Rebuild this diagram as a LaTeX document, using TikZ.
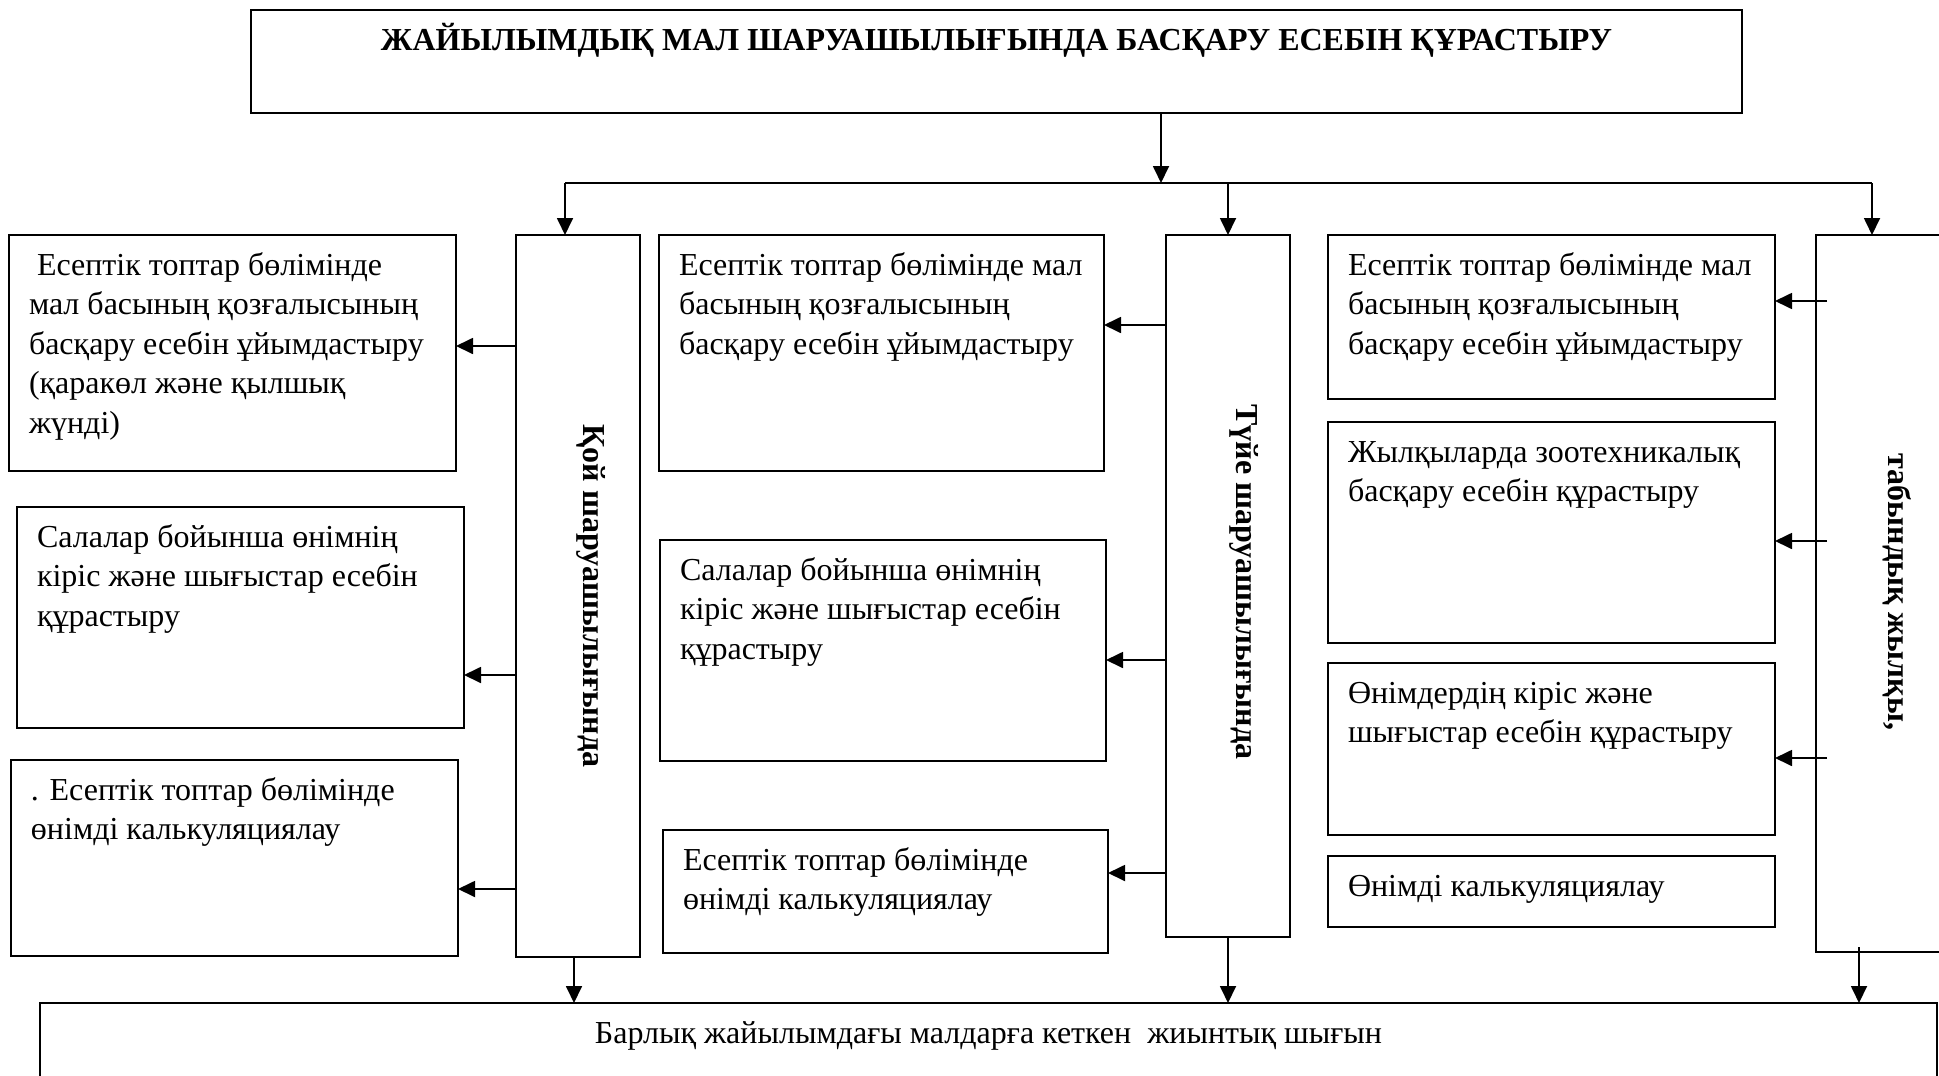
\documentclass[tikz,border=0pt]{standalone}
\usepackage{fontspec}
\setmainfont{Liberation Serif}
\usetikzlibrary{arrows.meta}
% box text: width and height in px of the sheet, text hangs from the top
\newcommand{\boxtext}[3]{\parbox[t][\dimexpr#2pt/2\relax][t]{\dimexpr#1pt/2-20pt\relax}{\raggedright\rule{0pt}{20pt}#3}}
\newcommand{\boxtitle}[3]{\parbox[t][\dimexpr#2pt/2\relax][t]{\dimexpr#1pt/2-20pt\relax}{\centering\rule{0pt}{20pt}#3}}
\tikzset{
  cell/.style={draw, line width=0.6pt, anchor=north west, inner xsep=10pt, inner ysep=0pt,
               outer sep=0pt, font=\fontsize{16}{19.75}\selectfont},
  spine/.style={draw, line width=0.6pt, anchor=north west, inner sep=0pt, outer sep=0pt},
  spinelabel/.style={rotate=-90, inner sep=0pt, font=\fontsize{16}{19.75}\selectfont\bfseries},
  arr/.style={-{Triangle[length=8.5pt,width=8pt]}, line width=0.9pt},
  bus/.style={line width=0.6pt},
}
\begin{document}
\begin{tikzpicture}[x=0.5pt, y=-0.5pt]
  \useasboundingbox (0,0) rectangle (1939,1076);
  \node[cell] (title) at (251,10) {\boxtitle{1491}{103}{\textbf{ЖАЙЫЛЫМДЫҚ МАЛ ШАРУАШЫЛЫҒЫНДА БАСҚАРУ ЕСЕБІН ҚҰРАСТЫРУ}}};

  % sheep
  \node[spine, minimum width=62pt, minimum height=361pt] (koi) at (516,235) {};
  \node[spinelabel] (koiLabel) at (591,596) {Қой шаруашылығында};
  \node[cell] (koiA) at (9,235) {\boxtext{447}{236}{\hspace*{0.25em}Есептік топтар бөлімінде\\мал басының қозғалысының\\басқару есебін ұйымдастыру\\(қаракөл және қылшық\\жүнді)}};
  \node[cell] (koiB) at (17,507) {\boxtext{447}{221}{Салалар бойынша өнімнің\\кіріс және шығыстар есебін\\құрастыру}};
  \node[cell] (koiC) at (11,760) {\boxtext{447}{196}{. Есептік топтар бөлімінде\\өнімді калькуляциялау}};

  % camel
  \node[spine, minimum width=62pt, minimum height=351pt] (tuie) at (1166,235) {};
  \node[spinelabel] (tuieLabel) at (1244,582) {Түйе шаруашылығында};
  \node[cell] (tuieA) at (659,235) {\boxtext{445}{236}{Есептік топтар бөлімінде мал\\басының қозғалысының\\басқару есебін ұйымдастыру}};
  \node[cell] (tuieB) at (660,540) {\boxtext{446}{221}{Салалар бойынша өнімнің\\кіріс және шығыстар есебін\\құрастыру}};
  \node[cell] (tuieC) at (663,830) {\boxtext{445}{123}{Есептік топтар бөлімінде\\өнімді калькуляциялау}};

  % horses
  \node[spine, minimum width=150pt, minimum height=358.5pt] (jylqy) at (1816,235) {};
  \node[spinelabel] (jylqyLabel) at (1897,592) {табындық жылқы,};
  \node[cell] (jylqyA) at (1328,235) {\boxtext{447}{164}{Есептік топтар бөлімінде мал\\басының қозғалысының\\басқару есебін ұйымдастыру}};
  \node[cell] (jylqyB) at (1328,422) {\boxtext{447}{221}{Жылқыларда зоотехникалық\\басқару есебін құрастыру}};
  \node[cell] (jylqyC) at (1328,663) {\boxtext{447}{172}{Өнімдердің кіріс және\\шығыстар есебін құрастыру}};
  \node[cell] (jylqyD) at (1328,856) {\boxtext{447}{71}{Өнімді калькуляциялау}};

  \node[cell, line width=0.8pt] (total) at (40,1003) {\boxtitle{1897}{200}{Барлық жайылымдағы малдарға кеткен\ \ жиынтық шығын}};

  % distribution from the title
  \coordinate (forkL) at (565,183);
  \coordinate (forkM) at (1161,183);
  \coordinate (forkR) at (1872,183);
  \draw[arr] (title.south -| forkM) -- (forkM);
  \draw[bus] (forkL) -- (forkR);
  \draw[arr] (forkL) -- (forkL |- koi.north);
  \draw[arr] (tuie.north |- forkL) -- (tuie.north);
  \draw[arr] (forkR) -- (forkR |- jylqy.north);

  \draw[arr] (koi.west |- 0,346) -- (koiA.east |- 0,346);
  \draw[arr] (koi.west |- 0,675) -- (koiB.east |- 0,675);
  \draw[arr] (koi.west |- 0,889) -- (koiC.east |- 0,889);
  \draw[arr] (tuie.west |- 0,325) -- (tuieA.east |- 0,325);
  \draw[arr] (tuie.west |- 0,660) -- (tuieB.east |- 0,660);
  \draw[arr] (tuie.west |- 0,873) -- (tuieC.east |- 0,873);
  \draw[arr, shorten <=-5.5pt] (jylqy.west |- 0,301) -- (jylqyA.east |- 0,301);
  \draw[arr, shorten <=-5.5pt] (jylqy.west |- 0,541) -- (jylqyB.east |- 0,541);
  \draw[arr, shorten <=-5.5pt] (jylqy.west |- 0,758) -- (jylqyC.east |- 0,758);

  % into the total
  \coordinate (jylqyOut) at ([xshift=21.5pt]jylqy.south west);
  \draw[arr] ([xshift=-2pt]koi.south) -- ([xshift=-2pt]koi.south |- total.north);
  \draw[arr] (tuie.south) -- (tuie.south |- total.north);
  \draw[arr, shorten <=-2.5pt] (jylqyOut) -- (jylqyOut |- total.north);
\end{tikzpicture}
\end{document}
